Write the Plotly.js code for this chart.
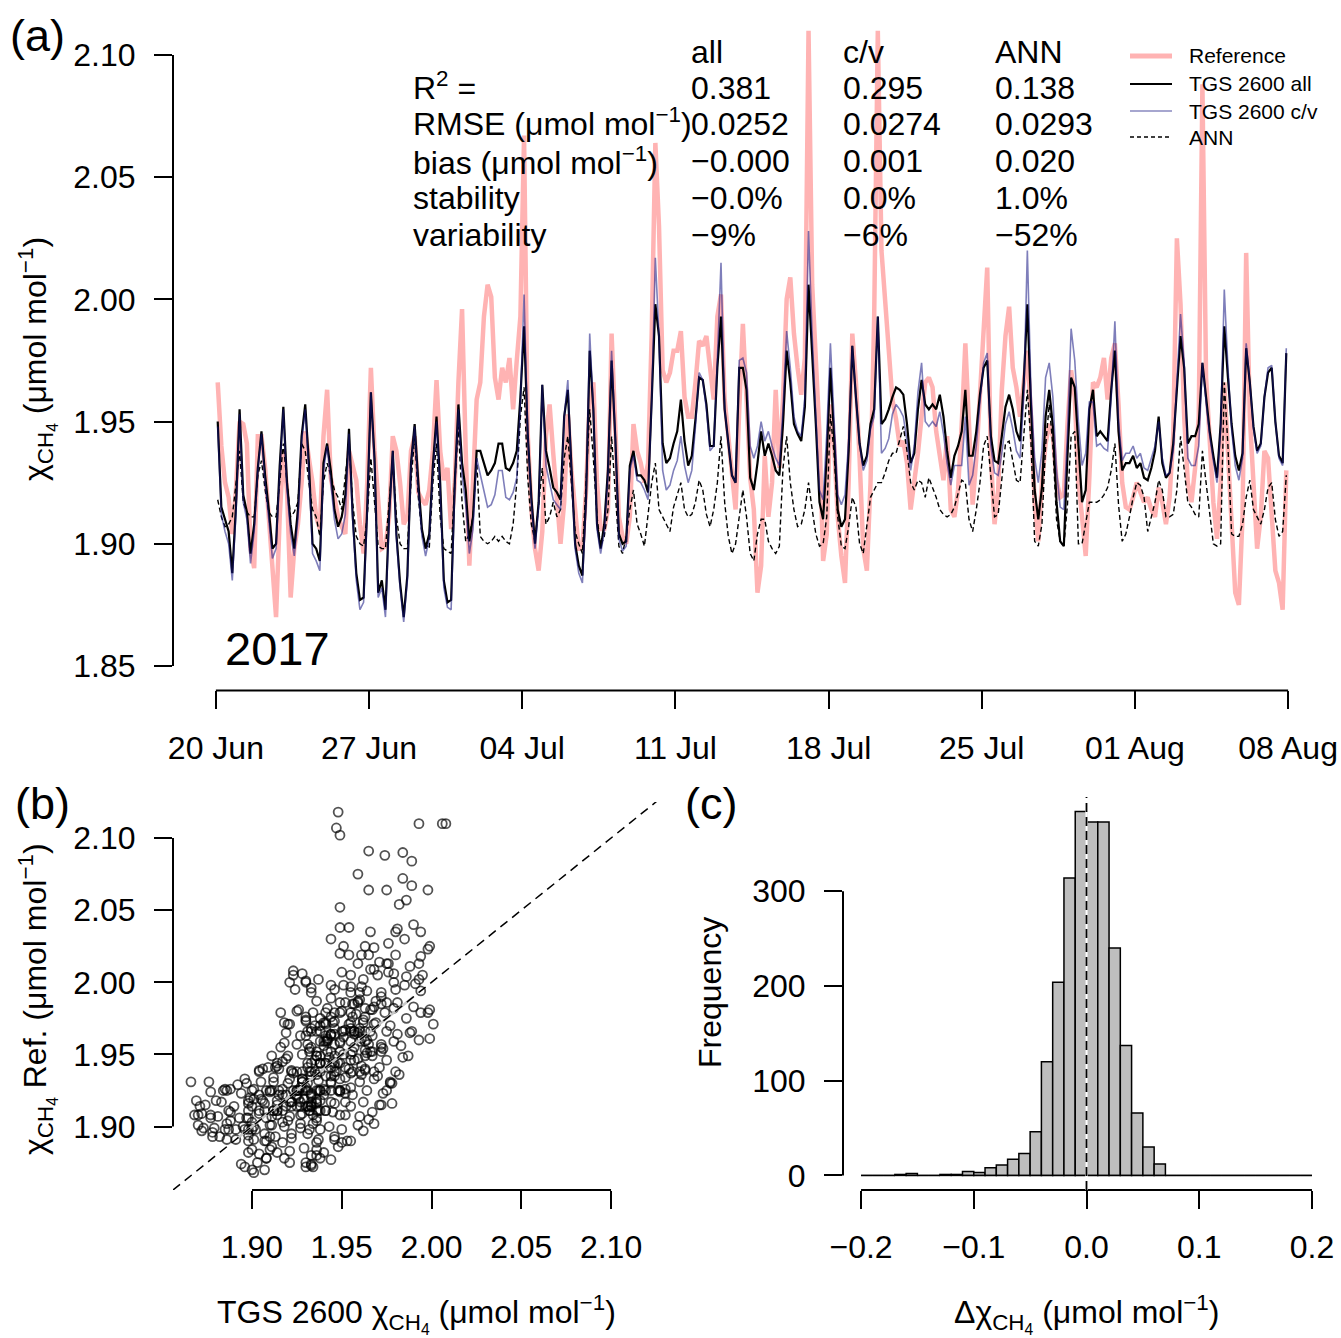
<!DOCTYPE html>
<html><head><meta charset="utf-8">
<script src="https://cdn.plot.ly/plotly-3.0.1.min.js"></script>
<style>html,body{margin:0;padding:0;background:#fff}#chart{width:1341px;height:1338px}</style>
</head><body><div id="chart"></div>
<script>
// ---------- DATA ----------
// time series sampled every 4 h, first sample 20 Jun 2017 02:00
const seriesStartUTC = [2017, 5, 20, 2];
const seriesStepHours = 4;

const refVals = [
1.966,1.940,1.925,1.919,1.904,1.922, 1.950,1.949,1.941,1.898,1.890,1.944,
1.944,1.931,1.911,1.890,1.870,1.911, 1.938,1.922,1.878,1.898,1.908,1.925,
1.946,1.935,1.925,1.911,1.906,1.944, 1.963,1.927,1.918,1.911,1.907,1.904,
1.938,1.931,1.926,1.908,1.896,1.925, 1.972,1.938,1.918,1.898,1.899,1.911,
1.944,1.938,1.925,1.908,1.911,1.938, 1.944,1.921,1.918,1.916,1.922,1.938,
1.967,1.938,1.926,1.931,1.906,1.925, 1.966,1.996,1.938,1.891,1.925,1.959,
1.966,1.993,2.006,2.001,1.968,1.959, 1.972,1.966,1.976,1.955,1.975,1.993,
2.067,1.945,1.914,1.898,1.889,1.905, 1.944,1.957,1.937,1.917,1.900,1.917,
1.953,1.930,1.914,1.898,1.898,1.922, 1.959,1.966,1.925,1.906,1.906,1.914,
1.986,1.952,1.911,1.903,1.900,1.911, 1.949,1.938,1.933,1.925,1.933,1.986,
2.064,2.030,1.971,1.966,1.970,1.979, 1.979,1.987,1.960,1.952,1.952,1.966,
1.983,1.981,1.985,1.972,1.959,1.993, 2.002,1.959,1.944,1.925,1.914,1.955,
1.990,1.959,1.927,1.914,1.880,1.891, 1.936,1.911,1.925,1.963,1.931,1.959,
2.000,2.009,1.986,1.972,1.961,1.976, 2.110,2.006,1.979,1.945,1.893,1.904,
1.957,1.941,1.911,1.895,1.884,1.925, 1.986,1.966,1.935,1.898,1.889,1.925,
1.993,2.110,2.020,1.998,1.979,1.959, 1.951,1.940,1.942,1.933,1.914,1.925,
1.937,1.952,1.966,1.968,1.964,1.946, 1.936,1.926,1.944,1.914,1.911,1.922,
1.949,1.982,1.949,1.916,1.935,1.961, 1.985,2.013,1.935,1.908,1.922,1.963,
1.985,1.997,1.972,1.964,1.952,1.966, 1.979,1.952,1.917,1.901,1.925,1.941,
1.949,1.944,1.926,1.919,1.920,1.949, 1.971,1.960,1.925,1.911,1.895,1.927,
1.966,1.964,1.968,1.976,1.959,1.976, 1.982,1.957,1.925,1.915,1.914,1.919,
1.925,1.921,1.917,1.919,1.914,1.911, 1.923,1.917,1.908,1.919,1.944,2.025,
1.998,1.952,1.925,1.917,1.931,1.952, 2.088,1.968,1.938,1.917,1.902,1.925,
1.966,1.938,1.908,1.880,1.875,1.911, 2.019,1.952,1.925,1.898,1.911,1.938,
1.935,1.915,1.889,1.884,1.873,1.930
];

const allVals = [
1.950,1.915,1.910,1.905,1.888,1.915, 1.955,1.920,1.913,1.896,1.908,1.931,
1.946,1.928,1.914,1.898,1.900,1.932, 1.956,1.925,1.908,1.898,1.914,1.944,
1.957,1.933,1.900,1.898,1.893,1.933, 1.941,1.930,1.914,1.907,1.911,1.920,
1.947,1.912,1.888,1.877,1.878,1.915, 1.962,1.935,1.880,1.885,1.873,1.912,
1.938,1.904,1.884,1.870,1.887,1.933, 1.949,1.925,1.906,1.898,1.904,1.932,
1.952,1.925,1.885,1.876,1.877,1.925, 1.957,1.933,1.922,1.901,1.911,1.938,
1.938,1.933,1.928,1.930,1.933,1.941, 1.941,1.931,1.930,1.933,1.938,1.960,
1.989,1.945,1.919,1.900,1.917,1.965, 1.938,1.931,1.923,1.921,1.918,1.952,
1.963,1.931,1.900,1.891,1.887,1.919, 1.979,1.955,1.908,1.898,1.908,1.930,
1.975,1.944,1.904,1.900,1.901,1.932, 1.938,1.928,1.928,1.926,1.921,1.959,
1.998,1.985,1.941,1.933,1.935,1.941, 1.946,1.959,1.942,1.932,1.936,1.951,
1.968,1.967,1.957,1.940,1.940,1.972, 1.993,1.955,1.941,1.928,1.925,1.972,
1.972,1.963,1.927,1.922,1.933,1.946, 1.936,1.941,1.936,1.930,1.928,1.949,
1.979,1.966,1.949,1.945,1.942,1.956, 2.006,1.979,1.949,1.917,1.910,1.936,
1.972,1.944,1.914,1.907,1.910,1.938, 1.981,1.960,1.941,1.932,1.936,1.949,
1.955,1.993,1.949,1.951,1.955,1.960, 1.964,1.963,1.961,1.949,1.933,1.937,
1.955,1.967,1.957,1.955,1.957,1.955, 1.961,1.952,1.938,1.927,1.936,1.940,
1.946,1.963,1.936,1.936,1.946,1.961, 1.972,1.975,1.944,1.934,1.933,1.944,
1.956,1.961,1.955,1.946,1.942,1.966, 1.998,1.956,1.922,1.910,1.923,1.952,
1.963,1.948,1.917,1.901,1.899,1.936, 1.968,1.964,1.938,1.917,1.922,1.955,
1.963,1.944,1.946,1.944,1.942,1.963, 1.979,1.946,1.930,1.933,1.933,1.936,
1.931,1.933,1.927,1.926,1.931,1.938, 1.952,1.933,1.927,1.929,1.941,1.963,
1.985,1.972,1.941,1.944,1.944,1.949, 1.974,1.960,1.946,1.936,1.927,1.949,
1.989,1.968,1.949,1.936,1.930,1.937, 1.980,1.966,1.948,1.938,1.941,1.960,
1.970,1.972,1.950,1.936,1.933,1.978
];

const cvVals = [
1.948,1.912,1.905,1.900,1.885,1.912, 1.953,1.917,1.910,1.892,1.905,1.930,
1.945,1.925,1.910,1.894,1.898,1.930, 1.955,1.922,1.904,1.895,1.910,1.942,
1.955,1.930,1.896,1.893,1.889,1.930, 1.940,1.926,1.910,1.902,1.904,1.912,
1.945,1.910,1.885,1.873,1.876,1.913, 1.962,1.933,1.878,1.882,1.870,1.910,
1.938,1.902,1.882,1.868,1.885,1.932, 1.948,1.922,1.903,1.895,1.902,1.930,
1.950,1.922,1.882,1.874,1.873,1.923, 1.955,1.928,1.916,1.896,1.906,1.935,
1.928,1.922,1.915,1.916,1.920,1.930, 1.930,1.919,1.918,1.921,1.927,1.958,
2.002,1.945,1.917,1.898,1.915,1.965, 1.932,1.925,1.918,1.916,1.914,1.952,
1.967,1.930,1.898,1.888,1.884,1.917, 1.986,1.955,1.906,1.896,1.905,1.928,
1.979,1.944,1.902,1.897,1.899,1.930, 1.936,1.926,1.925,1.922,1.918,1.958,
2.017,1.985,1.930,1.922,1.924,1.930, 1.934,1.944,1.932,1.925,1.930,1.948,
1.970,1.967,1.955,1.938,1.940,1.975, 2.015,1.955,1.940,1.928,1.925,1.975,
1.976,1.970,1.940,1.935,1.940,1.950, 1.942,1.946,1.940,1.935,1.932,1.955,
1.987,1.972,1.952,1.946,1.944,1.960, 2.028,1.985,1.952,1.922,1.918,1.945,
1.982,1.950,1.920,1.916,1.920,1.942, 1.981,1.960,1.941,1.930,1.934,1.947,
1.952,1.993,1.937,1.939,1.943,1.953, 1.957,1.955,1.952,1.942,1.930,1.940,
1.962,1.974,1.950,1.948,1.950,1.948, 1.954,1.945,1.933,1.924,1.932,1.932,
1.932,1.952,1.924,1.928,1.940,1.958, 1.974,1.978,1.940,1.929,1.928,1.937,
1.949,1.954,1.947,1.938,1.935,1.960, 2.020,1.962,1.935,1.925,1.938,1.968,
1.974,1.960,1.930,1.915,1.914,1.945, 1.988,1.975,1.950,1.932,1.937,1.958,
1.958,1.940,1.941,1.939,1.938,1.960, 1.991,1.950,1.934,1.937,1.937,1.940,
1.935,1.937,1.931,1.930,1.935,1.940, 1.950,1.935,1.928,1.929,1.938,1.965,
1.994,1.974,1.935,1.932,1.932,1.940, 1.974,1.958,1.944,1.934,1.925,1.947,
2.004,1.972,1.947,1.932,1.926,1.935, 1.982,1.966,1.947,1.937,1.940,1.960,
1.972,1.973,1.950,1.935,1.932,1.980
];

const annVals = [
1.918,1.911,1.907,1.908,1.911,1.925, 1.938,1.917,1.913,1.911,1.911,1.928,
1.934,1.922,1.913,1.911,1.911,1.925, 1.941,1.925,1.911,1.913,1.917,1.941,
1.938,1.925,1.914,1.911,1.903,1.925, 1.933,1.928,1.922,1.919,1.914,1.928,
1.941,1.917,1.903,1.900,1.899,1.911, 1.935,1.917,1.899,1.898,1.898,1.917,
1.934,1.911,1.900,1.898,1.898,1.925, 1.944,1.919,1.904,1.900,1.898,1.925,
1.941,1.911,1.898,1.897,1.896,1.925, 1.948,1.917,1.901,1.904,1.911,1.935,
1.903,1.901,1.900,1.901,1.903,1.901, 1.903,1.901,1.900,1.908,1.925,1.952,
1.964,1.927,1.908,1.901,1.917,1.931, 1.908,1.911,1.917,1.911,1.914,1.935,
1.944,1.925,1.905,1.900,1.896,1.925, 1.955,1.935,1.911,1.899,1.903,1.914,
1.944,1.921,1.899,1.896,1.903,1.914, 1.922,1.908,1.904,1.899,1.911,1.925,
1.933,1.914,1.911,1.908,1.905,1.915, 1.920,1.925,1.914,1.911,1.912,1.917,
1.926,1.922,1.912,1.907,1.914,1.925, 1.944,1.917,1.903,1.896,1.900,1.911,
1.922,1.911,1.896,1.893,1.904,1.910, 1.910,1.901,1.898,1.896,1.899,1.931,
1.944,1.925,1.914,1.907,1.908,1.914, 1.925,1.914,1.904,1.899,1.900,1.911,
1.953,1.937,1.911,1.899,1.898,1.907, 1.919,1.915,1.900,1.896,1.908,1.919,
1.922,1.925,1.925,1.929,1.934,1.937, 1.937,1.942,1.948,1.938,1.925,1.922,
1.926,1.925,1.919,1.927,1.923,1.919, 1.914,1.912,1.911,1.912,1.915,1.920,
1.926,1.925,1.910,1.905,1.914,1.925, 1.940,1.944,1.927,1.911,1.912,1.927,
1.941,1.942,1.934,1.926,1.925,1.944, 1.963,1.941,1.901,1.899,1.908,1.940,
1.957,1.940,1.910,1.901,1.899,1.916, 1.944,1.946,1.900,1.900,1.908,1.917,
1.917,1.917,1.918,1.920,1.923,1.930, 1.941,1.916,1.901,1.904,1.911,1.919,
1.925,1.924,1.919,1.905,1.911,1.917, 1.926,1.922,1.911,1.911,1.912,1.922,
1.944,1.931,1.917,1.915,1.912,1.911, 1.938,1.925,1.912,1.900,1.899,1.900,
1.966,1.940,1.904,1.903,1.903,1.908, 1.919,1.926,1.914,1.911,1.908,1.914,
1.923,1.925,1.910,1.903,1.905,1.928
];

// panel b: additional circles (outliers / edge circles, then dense core)
const cloudTgs = [
1.948,1.947,1.949,2.008,1.965,1.984,1.989,1.959,1.984,1.965,1.975,1.986,1.982,1.949,1.949,1.954,1.966,1.981,1.980,1.990,
1.994,1.944,1.951,1.976,1.968,1.954,1.961,1.965,1.971,1.976,1.959,1.968,1.999,1.998,1.994,1.993,1.988,1.995,1.923,1.923,
1.950,1.955,1.962,1.970,1.976,1.930,1.937,1.944,1.986,1.991,1.994,1.980,1.921,1.924,1.999,2.001,1.994,1.990,1.986,1.988,
1.999,1.993,1.987,1.982,1.977,1.975,1.978,1.968,1.962,1.953,1.938,1.934,1.930,1.921,1.914,1.908,1.907,1.901,1.894,1.896,
1.898,1.904,1.866,1.869,1.877,1.871,1.868,1.872,1.878,1.886,1.892,1.897,1.904,1.909,1.914,1.918,1.920,1.916,1.918,1.925,1.930,
1.903,1.918,1.933,1.944,
1.900,1.911,1.921,1.929,1.940,1.948,
1.882,1.891,1.898,1.907,1.913,1.922,1.931,1.937,1.946,1.955,
1.870,1.879,1.886,1.895,1.902,1.911,1.917,1.927,1.934,1.943,1.950,1.959,
1.872,1.881,1.888,1.897,1.904,1.912,1.921,1.928,1.936,1.945,1.952,1.960,1.967,
1.874,1.883,1.890,1.898,1.907,1.914,1.922,1.931,1.938,1.946,1.955,1.962,1.971,
1.886,1.894,1.901,1.910,1.917,1.925,1.933,1.940,1.949,1.956,1.964,1.973,
1.896,1.905,1.912,1.920,1.928,1.937,1.944,1.952,1.960,1.968,1.977,
1.906,1.914,1.922,1.931,1.938,1.946,1.954,1.963,1.971,1.980,
1.911,1.919,1.928,1.935,1.943,1.951,1.959,1.967,1.975,1.984,
1.916,1.925,1.932,1.940,1.949,1.957,1.965,1.973,1.983,
1.919,1.927,1.936,1.944,1.951,1.959,1.967,1.975,1.981,
1.921,1.930,1.938,1.946,1.954,1.962,1.969,1.977,
1.926,1.934,1.942,1.950,1.958,1.966,1.974,
1.936,1.944,1.952,1.960,1.969,
1.946,1.955,1.964
];
const cloudRef = [
2.118,2.107,2.102,2.110,2.091,2.090,2.084,2.075,2.072,2.064,2.064,2.057,2.054,2.052,2.038,2.038,2.035,2.037,2.035,2.040,
2.035,2.030,2.025,2.027,2.024,2.019,2.019,2.019,2.014,2.013,2.013,2.009,2.025,2.023,2.018,2.013,2.011,2.005,2.008,2.005,
2.007,2.005,2.002,2.005,2.007,2.000,2.002,1.998,2.004,1.999,1.994,1.995,2.000,1.995,1.981,1.971,1.979,1.983,1.975,1.965,
1.961,1.960,1.949,1.936,1.931,1.925,1.916,1.902,1.897,1.890,1.878,1.872,1.872,1.875,1.882,1.878,1.870,1.868,1.874,1.872,
1.882,1.881,1.931,1.918,1.924,1.914,1.908,1.897,1.893,1.891,1.929,1.930,1.939,1.941,1.944,1.958,1.971,1.979,1.972,1.980,1.974,
1.875,1.878,1.874,1.877,
1.884,1.886,1.883,1.885,1.882,1.886,
1.893,1.891,1.894,1.890,1.893,1.892,1.895,1.891,1.893,1.890,
1.901,1.899,1.902,1.900,1.898,1.901,1.903,1.899,1.902,1.900,1.898,1.901,
1.909,1.907,1.910,1.906,1.909,1.911,1.907,1.909,1.906,1.910,1.908,1.907,1.910,
1.915,1.917,1.914,1.918,1.916,1.915,1.917,1.914,1.918,1.916,1.914,1.917,1.915,
1.925,1.923,1.926,1.924,1.922,1.925,1.923,1.926,1.924,1.922,1.925,1.923,
1.933,1.931,1.934,1.930,1.933,1.932,1.930,1.934,1.931,1.933,1.930,
1.940,1.942,1.939,1.941,1.938,1.942,1.940,1.939,1.941,1.938,
1.949,1.947,1.950,1.946,1.948,1.950,1.947,1.949,1.946,1.948,
1.955,1.957,1.954,1.956,1.958,1.955,1.957,1.954,1.956,
1.965,1.963,1.966,1.964,1.962,1.965,1.963,1.966,1.964,
1.971,1.973,1.970,1.973,1.971,1.974,1.972,1.970,
1.981,1.979,1.982,1.980,1.978,1.981,1.979,
1.987,1.989,1.986,1.988,1.987,
1.995,1.997,1.994
];

// histogram of differences (panel c), 0.01-wide bins from -0.20 to 0.20
const histBinCenters = [-0.195,-0.185,-0.175,-0.165,-0.155,-0.145,-0.135,-0.125,-0.115,-0.105,
  -0.095,-0.085,-0.075,-0.065,-0.055,-0.045,-0.035,-0.025,-0.015,-0.005,
  0.005,0.015,0.025,0.035,0.045,0.055,0.065,0.075,0.085,0.095,
  0.105,0.115,0.125,0.135,0.145,0.155,0.165,0.175,0.185,0.195];
const histCounts = [0,0,0,1,2,0,0,1,1,4, 3,8,11,17,23,46,120,204,314,384,
  373,373,240,137,66,30,12,0,0,0, 0,0,0,0,0,0,0,0,0,0];

// statistics table
const statColumns = ['all', 'c/v', 'ANN'];
const statLabels = ['R<sup>2</sup> =', 'RMSE (μmol mol<sup>−1</sup>)', 'bias (μmol mol<sup>−1</sup>)', 'stability', 'variability'];
const statAll = ['0.381', '0.0252', '−0.000', '−0.0%', '−9%'];
const statCv  = ['0.295', '0.0274', '0.001', '0.0%', '−6%'];
const statAnn = ['0.138', '0.0293', '0.020', '1.0%', '−52%'];

// ticks
const dateTickVals = ['2017-06-20','2017-06-27','2017-07-04','2017-07-11','2017-07-18','2017-07-25','2017-08-01','2017-08-08'];
const dateTickText = ['20 Jun','27 Jun','04 Jul','11 Jul','18 Jul','25 Jul','01 Aug','08 Aug'];
const ppmTicksA = [1.85, 1.90, 1.95, 2.00, 2.05, 2.10];
const ppmTextA = ['1.85','1.90','1.95','2.00','2.05','2.10'];
const ppmTicksB = [1.90, 1.95, 2.00, 2.05, 2.10];
const ppmTextB = ['1.90','1.95','2.00','2.05','2.10'];
const deltaTicks = [-0.2, -0.1, 0, 0.1, 0.2];
const deltaText = ['−0.2','−0.1','0.0','0.1','0.2'];
const freqTicks = [0, 100, 200, 300];
const freqText = ['0','100','200','300'];

// ---------- BUILD ----------
const t0 = Date.UTC(...seriesStartUTC);
const times = refVals.map((_, k) => new Date(t0 + k * seriesStepHours * 3600000).toISOString().slice(0, 19).replace('T', ' '));

const W = 1341, H = 1338;
const px = x => x / W, py = y => 1 - y / H;
const FONT = 'Liberation Sans, Arial, Helvetica, sans-serif';

const scatterMarker = {symbol: 'circle-open', size: 9, color: 'rgba(0,0,0,0.68)', line: {width: 1.8}};
const traces = [
  {x: times, y: refVals, type: 'scatter', mode: 'lines', line: {color: '#ffb3b3', width: 4.5}, xaxis: 'x', yaxis: 'y', name: 'Reference'},
  {x: times, y: annVals, type: 'scatter', mode: 'lines', line: {color: 'black', width: 1.4, dash: '5px,3px'}, xaxis: 'x', yaxis: 'y', name: 'ANN'},
  {x: times, y: allVals, type: 'scatter', mode: 'lines', line: {color: 'black', width: 2.2}, xaxis: 'x', yaxis: 'y', name: 'TGS 2600 all'},
  {x: times, y: cvVals, type: 'scatter', mode: 'lines', line: {color: 'rgba(20,20,130,0.55)', width: 1.6}, xaxis: 'x', yaxis: 'y', name: 'TGS 2600 c/v'},
  {x: allVals, y: refVals, type: 'scatter', mode: 'markers', xaxis: 'x2', yaxis: 'y2', marker: scatterMarker},
  {x: cloudTgs, y: cloudRef, type: 'scatter', mode: 'markers', xaxis: 'x2', yaxis: 'y2', marker: scatterMarker},
  {x: histBinCenters, y: histCounts, type: 'bar', width: 0.01, xaxis: 'x3', yaxis: 'y3',
    marker: {color: '#bebebe', line: {color: 'black', width: 1.5}}}
];

const axisCommon = {showline: false, showgrid: false, zeroline: false, ticks: 'outside', ticklen: 18, tickwidth: 2, tickcolor: 'black',
  tickfont: {family: FONT, size: 32, color: 'black'}, fixedrange: true};

const layout = {
  width: W, height: H, margin: {l: 0, r: 0, t: 0, b: 0}, showlegend: false,
  paper_bgcolor: 'white', plot_bgcolor: 'rgba(0,0,0,0)', font: {family: FONT, size: 32, color: 'black'},
  bargap: 0,
  xaxis: Object.assign({}, axisCommon, {domain: [px(173), px(1331)], type: 'date', range: ['2017-06-18 00:58', '2017-08-09 23:02'],
    tickmode: 'array', tickvals: dateTickVals, ticktext: dateTickText, anchor: 'y', ticklabelstandoff: 11}),
  yaxis: Object.assign({}, axisCommon, {domain: [py(690.4), py(30.5)], range: [1.84, 2.11],
    tickmode: 'array', tickvals: ppmTicksA, ticktext: ppmTextA, anchor: 'x', ticklabelstandoff: 12}),
  xaxis2: Object.assign({}, axisCommon, {domain: [px(173), px(657)], range: [1.856, 2.1256],
    tickmode: 'array', tickvals: ppmTicksB, ticktext: ppmTextB, anchor: 'y2', ticklabelstandoff: 11}),
  yaxis2: Object.assign({}, axisCommon, {domain: [py(1190), py(802)], range: [1.856, 2.125],
    tickmode: 'array', tickvals: ppmTicksB, ticktext: ppmTextB, anchor: 'x2', ticklabelstandoff: 12}),
  xaxis3: Object.assign({}, axisCommon, {domain: [px(843), px(1330)], range: [-0.216, 0.216],
    tickmode: 'array', tickvals: deltaTicks, ticktext: deltaText, anchor: 'y3', ticklabelstandoff: 11}),
  yaxis3: Object.assign({}, axisCommon, {domain: [py(1190), py(797)], range: [-15.4, 399.4],
    tickmode: 'array', tickvals: freqTicks, ticktext: freqText, anchor: 'x3', ticklabelstandoff: 12}),
  shapes: [],
  annotations: []
};

const S = layout.shapes, A = layout.annotations;
// R-style axis lines (first to last tick)
S.push({type: 'line', xref: 'paper', yref: 'y', x0: px(173), x1: px(173), y0: ppmTicksA[0], y1: ppmTicksA[ppmTicksA.length - 1], line: {color: 'black', width: 2}});
S.push({type: 'line', xref: 'x', yref: 'paper', x0: dateTickVals[0], x1: dateTickVals[dateTickVals.length - 1], y0: py(690.4), y1: py(690.4), line: {color: 'black', width: 2}});
S.push({type: 'line', xref: 'paper', yref: 'y2', x0: px(173), x1: px(173), y0: ppmTicksB[0], y1: ppmTicksB[ppmTicksB.length - 1], line: {color: 'black', width: 2}});
S.push({type: 'line', xref: 'x2', yref: 'paper', x0: ppmTicksB[0], x1: ppmTicksB[ppmTicksB.length - 1], y0: py(1190), y1: py(1190), line: {color: 'black', width: 2}});
S.push({type: 'line', xref: 'paper', yref: 'y3', x0: px(843), x1: px(843), y0: freqTicks[0], y1: freqTicks[freqTicks.length - 1], line: {color: 'black', width: 2}});
S.push({type: 'line', xref: 'x3', yref: 'paper', x0: deltaTicks[0], x1: deltaTicks[deltaTicks.length - 1], y0: py(1190), y1: py(1190), line: {color: 'black', width: 2}});
// panel b: 1:1 line (with light segment underneath)
S.push({type: 'line', xref: 'x2', yref: 'y2', x0: 1.892, y0: 1.892, x1: 1.99, y1: 1.99, line: {color: '#c8c8c8', width: 2.5}});
S.push({type: 'line', xref: 'x2', yref: 'y2', x0: 1.856, y0: 1.856, x1: 2.13, y1: 2.13, line: {color: 'black', width: 1.5, dash: '9px,6px'}});
// panel c: empty bins line at zero and dashed zero line
S.push({type: 'line', xref: 'x3', yref: 'y3', x0: -0.2, x1: 0.2, y0: 0, y1: 0, line: {color: 'black', width: 1.3}});
S.push({type: 'line', xref: 'x3', yref: 'y3 domain', x0: 0, x1: 0, y0: 0, y1: 1, line: {color: 'white', width: 2.5}});
S.push({type: 'line', xref: 'x3', yref: 'y3 domain', x0: 0, x1: 0, y0: 0, y1: 1, line: {color: 'black', width: 1.8, dash: '9px,5px'}});

function ann(text, x, y, o) {
  return Object.assign({text: text, x: px(x), y: py(y), xref: 'paper', yref: 'paper', showarrow: false,
    xanchor: 'left', yanchor: 'middle', font: {family: FONT, size: 32, color: 'black'}}, o || {});
}
// manual legend (panel a)
const legendRows = [
  {name: 'Reference', line: {color: '#ffb3b3', width: 5}},
  {name: 'TGS 2600 all', line: {color: 'black', width: 2}},
  {name: 'TGS 2600 c/v', line: {color: 'rgba(20,20,130,0.5)', width: 1.5}},
  {name: 'ANN', line: {color: 'black', width: 1.3, dash: '4px,3px'}}
];
const legendY = [56, 84, 111, 137];
legendRows.forEach((r, i) => {
  S.push({type: 'line', xref: 'paper', yref: 'paper', x0: px(1130), x1: px(1172), y0: py(legendY[i]), y1: py(legendY[i]), line: r.line});
  A.push(ann(r.name, 1187, legendY[i], {font: {family: FONT, size: 21, color: 'black'}}));
});
// statistics table
const colX = [689, 841, 993];
const rowY = [86, 122, 161, 198, 235];
statColumns.forEach((c, j) => A.push(ann(c, colX[j], 52)));
statLabels.forEach((l, i) => {
  A.push(ann(l, 411, rowY[i]));
  A.push(ann(statAll[i], colX[0], rowY[i] + (i < 2 ? 2 : 0)));
  A.push(ann(statCv[i], colX[1], rowY[i] + (i < 2 ? 2 : 0)));
  A.push(ann(statAnn[i], colX[2], rowY[i] + (i < 2 ? 2 : 0)));
});
// labels
A.push(ann('2017', 223, 648, {font: {family: FONT, size: 47, color: 'black'}}));
A.push(ann('(a)', 37, 35, {xanchor: 'center', font: {family: FONT, size: 45, color: 'black'}}));
A.push(ann('(b)', 42, 803, {xanchor: 'center', font: {family: FONT, size: 45, color: 'black'}}));
A.push(ann('(c)', 711, 803, {xanchor: 'center', font: {family: FONT, size: 45, color: 'black'}}));
// axis titles
A.push(ann('χ<sub>CH<sub>4</sub></sub> (μmol mol<sup>−1</sup>)', 37, 359, {xanchor: 'center', textangle: -90}));
A.push(ann('χ<sub>CH<sub>4</sub></sub> Ref. (μmol mol<sup>−1</sup>)', 37, 999, {xanchor: 'center', textangle: -90}));
A.push(ann('TGS 2600 χ<sub>CH<sub>4</sub></sub> (μmol mol<sup>−1</sup>)', 416, 1314, {xanchor: 'center'}));
A.push(ann('Frequency', 710, 993, {xanchor: 'center', textangle: -90}));
A.push(ann('Δχ<sub>CH<sub>4</sub></sub> (μmol mol<sup>−1</sup>)', 1086, 1314, {xanchor: 'center'}));

Plotly.newPlot('chart', traces, layout, {displayModeBar: false, staticPlot: true});
</script>
</body></html>
